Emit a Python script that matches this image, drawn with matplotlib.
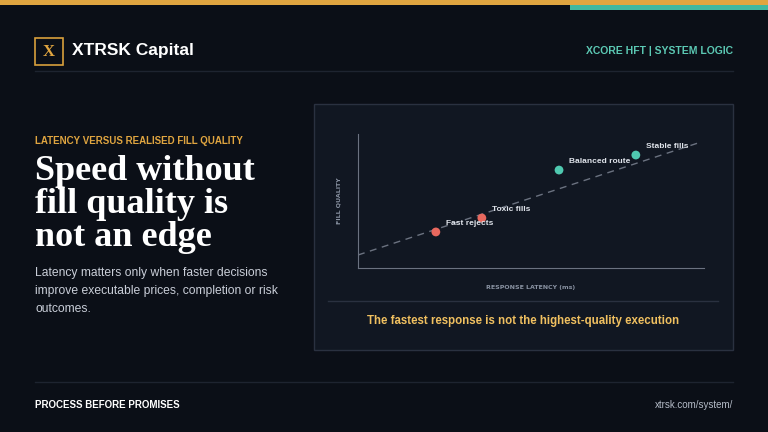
import matplotlib
matplotlib.use("Agg")
import matplotlib.pyplot as plt
from matplotlib.patches import Rectangle

labels = ["Fast rejects", "Toxic fills", "Balanced route", "Stable fills"]
latency = [22.5, 35.8, 58.1, 80.3]
quality = [26.9, 37.3, 73.1, 84.3]
colors = ["#e8685e", "#e8685e", "#4fc9b0", "#4fc9b0"]
trend_x = [0, 98.3]
trend_y = [9.7, 93.3]

W, H = 768, 432
fig = plt.figure(figsize=(7.68, 4.32), dpi=100)
fig.patch.set_facecolor("#0b0f17")

def px(x, y):
    return x / W, 1 - y / H

def T(x, y, s, **kw):
    fx, fy = px(x, y)
    fig.text(fx, fy, s, **kw)

def R(x0, y0, x1, y1, **kw):
    fig.patches.append(Rectangle(px(x0, y1), (x1 - x0) / W, (y1 - y0) / H,
                                 transform=fig.transFigure, **kw))

def L(x0, y0, x1, y1, **kw):
    a, b = px(x0, y0); c, d = px(x1, y1)
    fig.add_artist(plt.Line2D([a, c], [b, d], transform=fig.transFigure, **kw))

# top bars
R(0, 0, 768, 5, color="#e0a540", lw=0)
R(570, 5, 768, 10, color="#3fb8a0", lw=0)

# header
R(35, 38, 63, 65, facecolor="none", edgecolor="#d9a03c", lw=1.2)
T(49, 52, "X", color="#e0a540", fontsize=12, fontweight="bold", family="Liberation Serif", ha="center", va="center")
T(72, 51, "XTRSK Capital", color="white", fontsize=12.5, fontweight="bold", family="Liberation Sans", va="center")
T(733, 51, "XCORE HFT | SYSTEM LOGIC", color="#5cc9b4", fontsize=7.5, fontweight="bold", family="Liberation Sans", ha="right", va="center")
L(35, 71, 733, 71, color="#1e2430", lw=1)

# left text
T(35, 141, "LATENCY VERSUS REALISED FILL QUALITY", color="#e0a540", fontsize=7, fontweight="bold", family="Liberation Sans", va="center")
for i, s in enumerate(["Speed without", "fill quality is", "not an edge"]):
    T(35, 172 + 33 * i, s, color="white", fontsize=26, fontweight="bold", family="Liberation Serif", va="center")
for i, s in enumerate(["Latency matters only when faster decisions",
                       "improve executable prices, completion or risk",
                       "outcomes."]):
    T(35, 273 + 18 * i, s, color="#c9ced8", fontsize=8.7, family="Liberation Sans", va="center")

# panel
R(314, 104, 733, 350, facecolor="#111722", edgecolor="#2a3140", lw=1)
L(328, 301, 718, 301, color="#2a3140", lw=1)
T(523, 321, "The fastest response is not the highest-quality execution", color="#f0c060",
  fontsize=8.3, fontweight="bold", family="Liberation Sans", ha="center", va="center")

# chart
ax = fig.add_axes([358 / W, 1 - 268 / H, 346 / W, 134 / H])
ax.set_zorder(5)
ax.set_facecolor("none")
ax.set_xlim(0, 100); ax.set_ylim(0, 100)
for s in ["top", "right"]:
    ax.spines[s].set_visible(False)
for s in ["left", "bottom"]:
    ax.spines[s].set_color("#6b7280"); ax.spines[s].set_linewidth(0.8)
ax.set_xticks([]); ax.set_yticks([])
ax.plot(trend_x, trend_y, ls=(0, (5, 4)), color="#6b7280", lw=1)
ax.scatter(latency, quality, s=40, c=colors, zorder=3, linewidths=0)
for x, y, l in zip(latency, quality, labels):
    ax.annotate(l, (x, y), xytext=(7, 5), textcoords="offset points", color="#dfe3ea",
                fontsize=6, fontweight="bold", family="Liberation Sans")
ax.set_xlabel("RESPONSE LATENCY (ms)", color="#8a93a3", fontsize=4.5, fontweight="bold", labelpad=12)
ax.set_ylabel("FILL QUALITY", color="#8a93a3", fontsize=4.5, fontweight="bold", labelpad=12)

# footer
L(35, 382, 733, 382, color="#1e2430", lw=1)
T(35, 405, "PROCESS BEFORE PROMISES", color="white", fontsize=7, fontweight="bold", family="Liberation Sans", va="center")
T(733, 405, "xtrsk.com/system/", color="#b5bcc8", fontsize=7, family="Liberation Sans", ha="right", va="center")

fig.savefig("out.png", dpi=100, facecolor=fig.get_facecolor())
